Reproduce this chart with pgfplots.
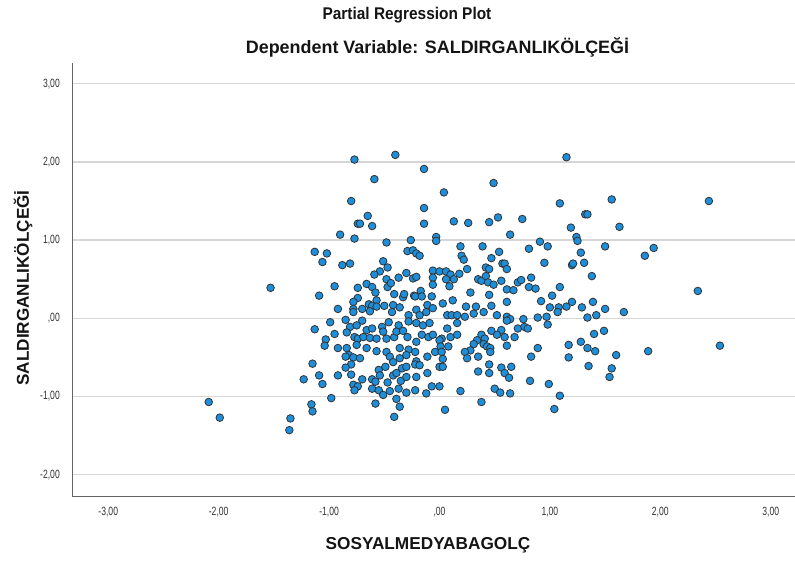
\documentclass[border=0pt]{standalone}
\usepackage{fontspec}
\setmainfont{Liberation Sans}
\newfontfamily\tickfont[FakeStretch=0.72]{Liberation Sans}
\newfontfamily\titfont[FakeStretch=0.91]{Liberation Sans}
\usepackage{pgfplots}
\usepackage{pgfplotstable}
\pgfplotsset{compat=1.18}
\definecolor{mk}{RGB}{28,142,218}
\definecolor{gridc}{RGB}{214,214,214}
\definecolor{axc}{RGB}{100,100,100}
\definecolor{tickc}{RGB}{50,50,50}
\definecolor{titc}{RGB}{20,20,20}
\pgfplotstableread{
x y
-2.09 -1.07
-1.99 -1.27
-1.35 -1.28
-1.36 -1.43
-1.53 0.39
-1.23 -0.78
-1.16 -1.10
-1.15 -1.19
-0.77 2.03
-0.40 2.09
-0.14 1.91
-0.59 1.78
0.49 1.73
0.04 1.61
-0.80 1.50
-0.65 1.31
-0.74 1.21
-0.72 1.21
-0.61 1.18
-0.90 1.07
-0.77 1.02
-0.48 0.97
-0.26 1.00
-1.13 0.85
-1.02 0.83
-1.06 0.72
-0.88 0.68
-0.81 0.70
-0.51 0.73
-0.47 0.65
-0.54 0.60
-0.59 0.56
-0.30 0.58
-0.29 0.86
-0.24 0.87
-0.48 0.50
-0.37 0.52
-0.24 0.51
-0.95 0.41
-0.74 0.39
-0.66 0.44
-0.61 0.40
-0.47 0.40
-0.44 0.45
-1.09 0.29
-0.74 0.26
-0.58 0.33
-0.41 0.31
-0.33 0.27
-0.32 0.31
-0.23 0.29
-0.78 0.21
-0.57 0.23
-0.64 0.18
-0.61 0.16
-0.57 0.15
-0.50 0.16
-0.42 0.17
-0.36 0.14
-0.92 0.12
-0.78 0.12
-0.14 1.41
1.09 1.47
-0.14 1.21
0.13 1.24
0.26 1.22
0.45 1.23
0.53 1.29
0.75 1.27
0.64 1.07
-0.03 1.04
-0.03 0.99
0.91 0.98
0.98 0.92
0.81 0.89
0.19 0.92
0.39 0.92
0.54 0.85
0.47 0.77
0.20 0.80
0.22 0.75
0.25 0.63
0.95 0.71
0.57 0.70
0.59 0.70
0.61 0.63
0.42 0.65
0.45 0.63
-0.21 0.83
-0.18 0.80
-0.06 0.61
0.00 0.60
0.06 0.60
-0.06 0.52
0.10 0.56
0.18 0.57
0.06 0.50
0.13 0.50
0.09 0.41
-0.06 0.43
-0.21 0.53
0.35 0.50
0.38 0.48
0.42 0.54
0.44 0.46
0.49 0.43
0.56 0.48
0.71 0.46
0.74 0.49
0.83 0.52
0.81 0.40
0.87 0.38
0.61 0.37
0.67 0.36
1.09 0.40
0.28 0.33
0.45 0.30
-0.17 0.35
-0.22 0.28
-0.16 0.28
-0.07 0.28
1.02 0.29
0.92 0.22
0.03 0.19
0.12 0.23
0.61 0.21
-0.11 0.17
0.24 0.15
0.33 0.15
0.47 0.16
1.00 0.14
1.08 0.14
-0.78 0.08
-0.70 0.12
-0.63 0.09
-0.43 0.08
-0.28 0.04
-0.99 -0.05
-0.85 -0.02
-1.13 -0.14
-0.81 -0.11
-0.75 -0.09
-0.70 -0.03
-0.66 -0.15
-0.61 -0.13
-0.52 -0.11
-0.46 -0.05
-0.37 -0.09
-0.28 -0.04
-0.21 -0.06
-0.21 0.11
-0.84 -0.18
-0.95 -0.20
-1.03 -0.27
-1.04 -0.35
-0.77 -0.24
-0.74 -0.26
-0.69 -0.24
-0.63 -0.25
-0.57 -0.26
-0.51 -0.17
-0.48 -0.26
-0.41 -0.24
-0.39 -0.17
-0.33 -0.16
-0.29 -0.24
-0.21 -0.30
-0.92 -0.38
-0.84 -0.38
-0.75 -0.34
-0.66 -0.38
-0.57 -0.42
-0.48 -0.43
-0.36 -0.38
-0.28 -0.40
-0.22 -0.43
-0.82 -0.47
-0.78 -0.50
-0.72 -0.51
-0.85 -0.49
-0.45 -0.49
-0.36 -0.51
-0.30 -0.47
-0.21 -0.55
-1.15 -0.58
-0.80 -0.59
-0.42 -0.56
-0.34 -0.64
-0.30 -0.62
-0.22 -0.59
-0.85 -0.63
-0.55 -0.66
-0.49 -0.62
-1.09 -0.73
-1.06 -0.84
-0.92 -0.73
-0.80 -0.72
-0.70 -0.78
-0.61 -0.78
-0.58 -0.81
-0.54 -0.73
-0.47 -0.82
-0.42 -0.73
-0.39 -0.70
-0.35 -0.80
-0.30 -0.75
-0.21 -0.75
-0.78 -0.85
-0.74 -0.87
-0.77 -0.92
-0.61 -0.90
-0.55 -0.92
-0.51 -0.98
-0.45 -0.93
-0.37 -0.90
-0.30 -0.95
-0.22 -0.92
-0.98 -1.02
-0.39 -1.03
-0.58 -1.09
-0.36 -1.13
-0.41 -1.26
-0.18 0.04
-0.12 0.08
-0.06 0.13
0.07 0.04
0.11 0.04
0.16 0.04
0.23 0.02
0.31 0.06
0.40 0.08
0.52 0.04
0.61 0.02
0.64 -0.01
0.76 -0.01
0.89 0.01
0.97 0.02
1.07 0.08
-0.15 -0.09
-0.09 -0.06
0.07 -0.13
0.16 -0.06
0.61 -0.03
0.56 -0.15
0.52 -0.21
0.47 -0.16
0.71 -0.13
0.77 -0.11
0.80 -0.13
0.98 -0.08
-0.16 -0.21
-0.10 -0.24
-0.06 -0.21
0.02 -0.26
0.10 -0.24
0.16 -0.21
0.38 -0.21
0.41 -0.26
0.59 -0.24
0.68 -0.24
0.00 -0.28
0.01 -0.36
0.08 -0.36
0.34 -0.28
0.40 -0.33
0.43 -0.36
0.46 -0.38
0.31 -0.33
0.28 -0.41
0.23 -0.43
0.61 -0.35
0.89 -0.38
-0.04 -0.43
0.02 -0.43
0.46 -0.43
-0.11 -0.49
0.03 -0.52
0.25 -0.51
0.35 -0.49
0.83 -0.49
-0.18 -0.60
0.00 -0.62
0.03 -0.62
0.45 -0.59
0.56 -0.63
0.65 -0.62
-0.11 -0.70
0.35 -0.68
0.45 -0.70
0.59 -0.70
0.63 -0.76
-0.07 -0.87
0.00 -0.87
0.82 -0.80
0.99 -0.84
-0.12 -0.96
0.19 -0.93
0.50 -0.90
0.55 -0.95
0.64 -0.96
1.09 -0.99
0.38 -1.07
0.05 -1.17
1.04 -1.16
1.15 2.06
1.56 1.52
2.44 1.50
1.32 1.33
1.34 1.33
1.19 1.16
1.63 1.17
1.24 1.04
1.25 0.99
1.50 0.92
1.86 0.80
1.94 0.90
1.28 0.84
1.20 0.68
1.21 0.70
1.31 0.71
1.38 0.54
2.34 0.35
1.20 0.21
1.15 0.15
1.29 0.14
1.39 0.21
1.50 0.12
1.67 0.08
1.34 0.01
1.42 0.04
1.49 -0.16
1.40 -0.20
1.28 -0.30
1.17 -0.34
1.34 -0.38
1.41 -0.42
1.17 -0.50
1.60 -0.47
1.89 -0.42
2.54 -0.35
1.35 -0.61
1.56 -0.64
1.54 -0.75
}\pts
\begin{document}
\begin{tikzpicture}[x=1bp,y=1bp]
\useasboundingbox (0,0) rectangle (795,562);
\begin{axis}[
  at={(72.7bp,65.3bp)}, anchor=south west,
  scale only axis, width=722.3bp, height=434bp,
  xmin=-3.322, xmax=3.220, ymin=-2.281, ymax=3.269,
  axis x line=bottom, axis y line=left,
  axis line style={-, draw=axc, line width=1.3bp},
  xtick={-3,-2,-1,0,1,2,3},
  xticklabels={{-3,00},{-2,00},{-1,00},{,00},{1,00},{2,00},{3,00}},
  ytick={-2,-1,0,1,2,3},
  yticklabels={{-2,00},{-1,00},{,00},{1,00},{2,00},{3,00}},
  major tick length=0pt,
  ymajorgrids, grid style={draw=gridc, line width=1.5bp},
  tick label style={font=\tickfont\fontsize{12}{14}\selectfont, text=tickc},
  xticklabel style={anchor=center, inner sep=0pt, yshift=-15bp},
  yticklabel style={anchor=east, inner sep=0pt, xshift=-12.7bp},
  clip=false,
]
\addplot[only marks, mark=*, mark size=3.8bp,
  mark options={fill=mk, draw=black!80, line width=0.8bp}] table[x=x,y=y] {\pts};
\end{axis}
\node[font=\titfont\bfseries\fontsize{17}{20}\selectfont, text=titc] at (407,547) {Partial Regression Plot};
\node[font=\bfseries\fontsize{18}{21}\selectfont, text=titc] at (437.5,515) {Dependent Variable: SALDIRGANLIKÖLÇEĞİ};
\node[font=\bfseries\fontsize{17.2}{20}\selectfont, text=titc, rotate=90] at (23,274) {SALDIRGANLIKÖLÇEĞİ};
\node[font=\bfseries\fontsize{17.3}{20}\selectfont, text=titc] at (428,17) {SOSYALMEDYABAGOLÇ};
\end{tikzpicture}
\end{document}
